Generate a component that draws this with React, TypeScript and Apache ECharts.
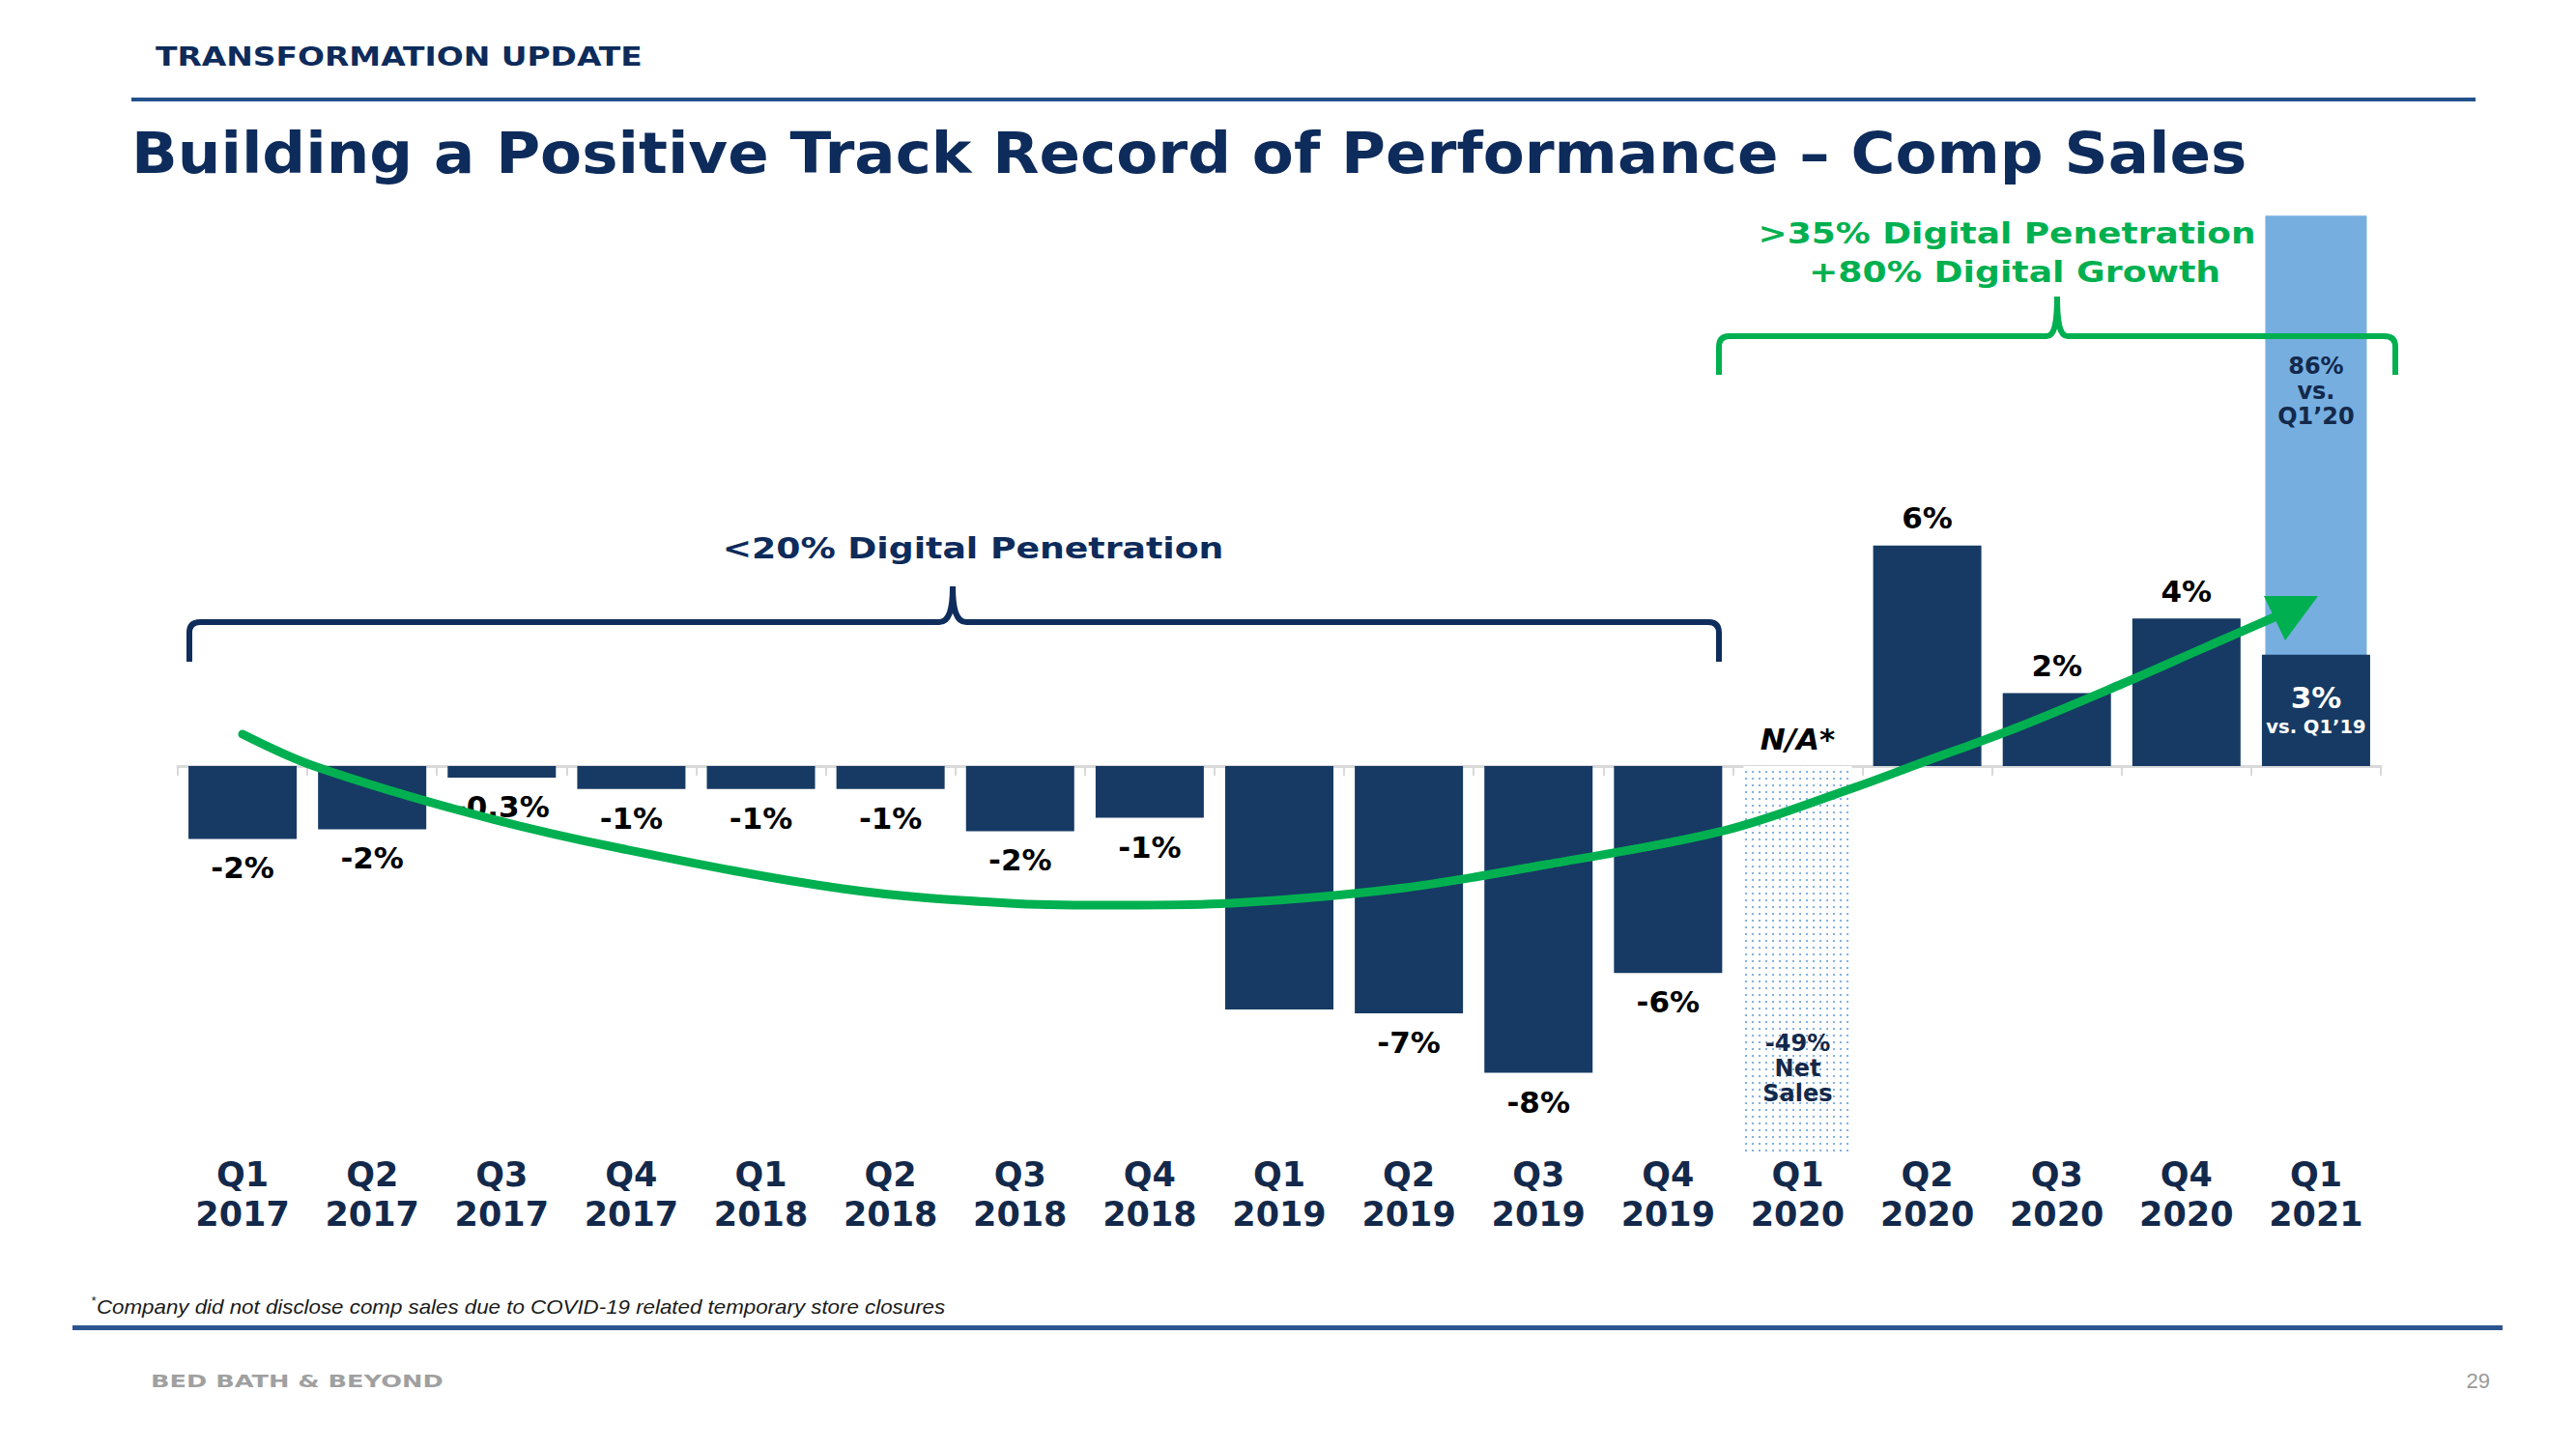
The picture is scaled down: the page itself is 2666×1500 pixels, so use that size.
import React, { useEffect, useRef } from "react";
import * as echarts from "echarts";

// ---------- data ----------
const quarters = [
  "Q1\n2017", "Q2\n2017", "Q3\n2017", "Q4\n2017",
  "Q1\n2018", "Q2\n2018", "Q3\n2018", "Q4\n2018",
  "Q1\n2019", "Q2\n2019", "Q3\n2019", "Q4\n2019",
  "Q1\n2020", "Q2\n2020", "Q3\n2020", "Q4\n2020",
  "Q1\n2021",
];
// comp sales (%), bar heights as drawn
const compSales: (number | null)[] = [
  -1.9, -1.65, -0.3, -0.6, -0.6, -0.6, -1.7, -1.35,
  -6.35, -6.45, -8.0, -5.4, null, 5.75, 1.9, 3.85, 2.9,
];
const compLabels = [
  "-2%", "-2%", "-0.3%", "-1%", "-1%", "-1%", "-2%", "-1%",
  "", "-7%", "-8%", "-6%", "N/A*", "6%", "2%", "4%", "3%",
];
const q121Note = "vs. Q1\u201919";
// Q1 2020 net sales (dotted bar, drawn truncated)
const netSales: (number | null)[] = [
  null, null, null, null, null, null, null, null,
  null, null, null, null, -10.1, null, null, null, null,
];
const netSalesLabel = "-49%\nNet\nSales";
// Q1 2021 vs Q1 2020 (86%), drawn as a truncated light column
const vsQ120: (number | null)[] = [
  null, null, null, null, null, null, null, null,
  null, null, null, null, null, null, null, null, 14.35,
];
const vsQ120Label = "86%\nvs.\nQ1\u201920";

const titleText = "Building a Positive Track Record of Performance \u2013 Comp Sales";
const sectionText = "TRANSFORMATION UPDATE";
const earlyNote = "<20% Digital Penetration";
const lateNote1 = ">35% Digital Penetration";
const lateNote2 = "+80% Digital Growth";
const footnote = "Company did not disclose comp sales due to COVID-19 related temporary store closures";
const brandText = "BED BATH & BEYOND";
const pageNo = "29";

// ---------- styles ----------
const NAVY = "#13294b";
const TITLE = "#0d2b5b";
const BAR = "#163a64";
const GREEN = "#00b050";
const LIGHT = "#76aee0";
const FONT = '"DejaVu Sans", sans-serif';

function measure(text: string, font: string): number {
  const c = document.createElement("canvas").getContext("2d");
  if (!c) return 1;
  c.font = font;
  return c.measureText(text).width || 1;
}

function txt(
  text: string, x: number, y: number, font: string, fill: string,
  align: string, targetWidth?: number, z = 50
) {
  const scaleX = targetWidth ? targetWidth / measure(text, font) : 1;
  return {
    type: "text", x, y, scaleX, z,
    style: {
      text, fill, font, align, verticalAlign: "middle",
      textAlign: align, textVerticalAlign: "middle",
    },
  };
}

const braceNavyD =
  "M196 685 L196 655 Q196 644 207 644 L972 644 C982 644 986 632 986 607 C986 632 990 644 1000 644 L1768 644 Q1779 644 1779 655 L1779 685";
const braceGreenD =
  "M1779 388 L1779 359 Q1779 348 1790 348 L2118 348 C2126 348 2129 336 2129 307 C2129 336 2132 348 2140 348 L2468 348 Q2479 348 2479 359 L2479 388";

export default function App() {
  const ref = useRef<HTMLDivElement>(null);

  useEffect(() => {
    document.body.style.margin = "0";
    if (!ref.current) return;
    echarts.graphic.registerShape("braceNavy", echarts.graphic.extendPath(braceNavyD, {}) as any);
    echarts.graphic.registerShape("braceGreen", echarts.graphic.extendPath(braceGreenD, {}) as any);
    const chart = echarts.init(ref.current, null, { renderer: "svg" });

    const baseLabel = {
      fontFamily: FONT, fontWeight: "bold", fontSize: 31, color: "#000",
      textBorderWidth: 0,
    };

    const darkData = compSales.map((v, i) => {
      const text = compLabels[i];
      if (v === null) {
        return {
          value: 0,
          label: { ...baseLabel, show: true, position: "top", distance: 12, formatter: text, fontStyle: "italic" },
        };
      }
      if (!text) return { value: v, label: { show: false } };
      if (i === compSales.length - 1) {
        return {
          value: v,
          label: {
            show: true, position: "insideTop", distance: 28,
            formatter: `{a|${text}}\n{b|${q121Note}}`,
            rich: {
              a: { fontFamily: FONT, fontWeight: "bold", fontSize: 31, lineHeight: 33, color: "#fff", align: "center" },
              b: { fontFamily: FONT, fontWeight: "bold", fontSize: 19.5, lineHeight: 28, color: "#fff", align: "center" },
            },
          },
        };
      }
      return {
        value: v,
        label: {
          ...baseLabel, show: true,
          position: v < 0 ? "bottom" : "top",
          distance: v < 0 ? 14.5 : 13,
          formatter: text,
        },
      };
    });

    const curvePts = [
      [251, 760], [325, 793], [487, 842], [641, 878], [872, 920], [1044, 935],
      [1159, 937], [1274, 935], [1446, 920], [1600, 895], [1784, 860], [1920, 815],
      [1985, 791], [2088, 753], [2196, 708], [2278, 672], [2356, 638],
    ];

    const option: any = {
      animation: false,
      backgroundColor: "#ffffff",
      grid: { left: 184, right: 202, top: 157.8, bottom: 302.1, containLabel: false },
      xAxis: [
        {
          type: "category", data: quarters, position: "bottom",
          axisLine: { show: true, onZero: true, lineStyle: { color: "#d9d9d9", width: 3 } },
          axisTick: { show: true, length: 10, lineStyle: { color: "#d9d9d9", width: 2 } },
          axisLabel: { show: false }, splitLine: { show: false },
        },
        {
          type: "category", data: quarters, position: "bottom",
          axisLine: { show: false, onZero: false }, axisTick: { show: false },
          axisLabel: {
            show: true, interval: 0, color: NAVY, fontFamily: FONT, fontWeight: "bold",
            fontSize: 35, lineHeight: 41, margin: -2,
          },
          splitLine: { show: false },
        },
      ],
      yAxis: { type: "value", min: -10.2, max: 16, show: false, splitLine: { show: false } },
      series: [
        {
          name: "vs. Q1'20", type: "bar", xAxisIndex: 1, barWidth: 105,
          data: vsQ120.map((v) => (v === null ? "-" : v)),
          itemStyle: { color: LIGHT },
          label: {
            show: true, position: "insideTop", distance: 143, formatter: (p: any) => (p.value === "-" ? "" : vsQ120Label),
            fontFamily: FONT, fontWeight: "bold", fontSize: 24, lineHeight: 26, color: NAVY, textBorderWidth: 0,
          },
        },
        {
          name: "Comp Sales", type: "bar", xAxisIndex: 0, barWidth: 112, barGap: "-100%",
          data: darkData, itemStyle: { color: BAR },
        },
        {
          name: "Net Sales", type: "bar", xAxisIndex: 0, barWidth: 112, barGap: "-100%",
          data: netSales.map((v) => (v === null ? "-" : v)),
          itemStyle: {
            color: "#ffffff",
            decal: {
              symbol: "circle", symbolSize: 1, color: "#6aa2dc",
              dashArrayX: [2, 5], dashArrayY: [2, 5], rotation: 0,
            },
          },
          label: {
            show: true, position: "inside", offset: [0, 113], formatter: netSalesLabel,
            fontFamily: FONT, fontWeight: "bold", fontSize: 24, lineHeight: 26, color: NAVY, textBorderWidth: 0,
          },
        },
      ],
      graphic: [
        txt(sectionText, 161, 59, `bold 26px ${FONT}`, TITLE, "left", 504),
        { type: "rect", z: 40, shape: { x: 136, y: 101, width: 2426, height: 4 }, style: { fill: "#24508a" } },
        txt(titleText, 136, 159, `bold 58px ${FONT}`, TITLE, "left", 2190),
        { type: "braceNavy", z: 60, style: { stroke: "#0f2d5c", lineWidth: 6, fill: "none" } },
        txt(earlyNote, 1007, 568, `bold 30px ${FONT}`, TITLE, "center", 519),
        { type: "braceGreen", z: 60, style: { stroke: GREEN, lineWidth: 6, fill: "none" } },
        txt(lateNote1, 2077, 242, `bold 30px ${FONT}`, GREEN, "center", 515),
        txt(lateNote2, 2085, 282, `bold 30px ${FONT}`, GREEN, "center", 426),
        {
          type: "polyline", z: 100,
          shape: { points: curvePts, smooth: 0.35 },
          style: { stroke: GREEN, lineWidth: 9, fill: "none", lineCap: "round" },
        },
        {
          type: "polygon", z: 101,
          shape: { points: [[2343, 617], [2399, 617], [2365, 663]] },
          style: { fill: GREEN },
        },
        txt("*", 94, 1346, `italic normal 13px "Liberation Sans", sans-serif`, "#1a1a1a", "left"),
        txt(footnote, 100, 1353, `italic normal 20px "Liberation Sans", sans-serif`, "#1a1a1a", "left", 878),
        { type: "rect", z: 40, shape: { x: 75, y: 1372, width: 2515, height: 5 }, style: { fill: "#2c5590" } },
        txt(brandText, 156, 1429, `bold 18px ${FONT}`, "#a0a0a0", "left", 303),
        txt(pageNo, 2577, 1429, `normal 22px "Liberation Sans", sans-serif`, "#9a9a9a", "right"),
      ],
    };

    chart.setOption(option);
    return () => chart.dispose();
  }, []);

  return <div ref={ref} style={{ width: 2666, height: 1500 }} />;
}
